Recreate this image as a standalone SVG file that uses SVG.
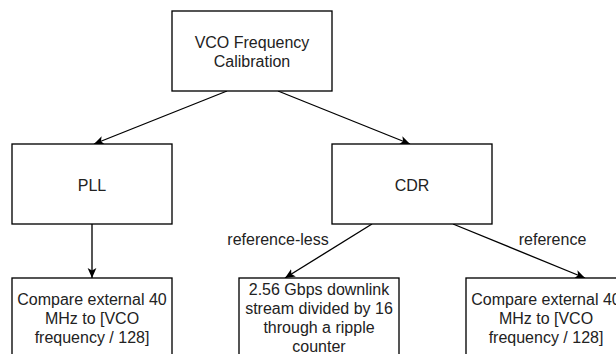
<svg xmlns="http://www.w3.org/2000/svg" width="616" height="354" viewBox="0 0 616 354">
  <defs>
    <style>
      .box { fill: #ffffff; stroke: #000000; stroke-width: 1.33; }
      .txt { font-family: "Liberation Sans", Arial, Helvetica, sans-serif; font-size: 16px; fill: #222222; text-anchor: middle; }
      .edge { fill: none; stroke: #000000; stroke-width: 1.33; marker-end: url(#arrow); }
    </style>
    <!-- classic notched arrowhead, tip at the line end -->
    <marker id="arrow" viewBox="0 0 10 10" refX="10" refY="5" markerWidth="10" markerHeight="10" markerUnits="userSpaceOnUse" orient="auto">
      <path d="M10,5 L0,0.6 L2.6,5 L0,9.4 Z" fill="#000000"/>
    </marker>
  </defs>
  <rect width="616" height="354" fill="#ffffff"/>

  <g id="connectors">
    <line class="edge" x1="227" y1="91" x2="94" y2="144"/>
    <line class="edge" x1="278" y1="91" x2="410" y2="144"/>
    <line class="edge" x1="92" y1="224" x2="92" y2="278"/>
    <line class="edge" x1="372" y1="224" x2="285" y2="278"/>
    <line class="edge" x1="453" y1="224" x2="585" y2="278"/>
    <text class="txt" x="278" y="244.5">reference-less</text>
    <text class="txt" x="552.5" y="245">reference</text>
  </g>

  <g id="vco-calibration">
    <rect class="box" x="172" y="11" width="160" height="80"/>
    <text class="txt" x="252" y="48">VCO Frequency</text>
    <text class="txt" x="252" y="67">Calibration</text>
  </g>

  <g id="pll">
    <rect class="box" x="12" y="144" width="160" height="80"/>
    <text class="txt" x="92" y="190.5">PLL</text>
  </g>

  <g id="cdr">
    <rect class="box" x="332" y="144" width="160" height="80"/>
    <text class="txt" x="412" y="190.5">CDR</text>
  </g>

  <g id="pll-compare">
    <rect class="box" x="12" y="278" width="160" height="80"/>
    <text class="txt" x="92" y="305">Compare external 40</text>
    <text class="txt" x="92" y="324">MHz to [VCO</text>
    <text class="txt" x="92" y="343">frequency / 128]</text>
  </g>

  <g id="cdr-reference-less">
    <rect class="box" x="239" y="278" width="160" height="80"/>
    <text class="txt" x="319" y="294.5">2.56 Gbps downlink</text>
    <text class="txt" x="319" y="313.5">stream divided by 16</text>
    <text class="txt" x="319" y="332.5">through a ripple</text>
    <text class="txt" x="319" y="351.5">counter</text>
  </g>

  <g id="cdr-reference">
    <rect class="box" x="466" y="278" width="160" height="80"/>
    <text class="txt" x="546" y="305">Compare external 40</text>
    <text class="txt" x="546" y="324">MHz to [VCO</text>
    <text class="txt" x="546" y="343">frequency / 128]</text>
  </g>
</svg>
